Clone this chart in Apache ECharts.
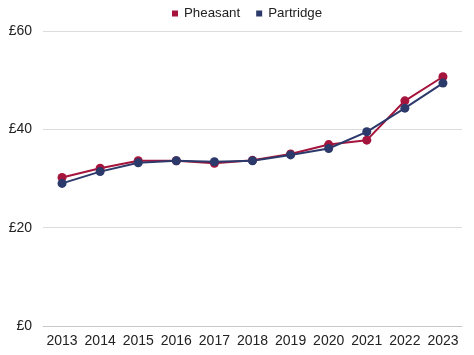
<!DOCTYPE html>
<html><head><meta charset="utf-8">
<script src="https://cdn.jsdelivr.net/npm/echarts@6/dist/echarts.min.js"></script>
<style>html,body{margin:0;padding:0;background:#fff}#c{width:474px;height:355px}</style>
</head><body><div id="c"></div>
<script>
const years = ['2013','2014','2015','2016','2017','2018','2019','2020','2021','2022','2023'];
const pheasant = [30.2, 32.1, 33.6, 33.6, 33.1, 33.7, 35.0, 36.9, 37.8, 45.8, 50.7];
const partridge = [29.0, 31.4, 33.2, 33.6, 33.4, 33.6, 34.8, 36.1, 39.5, 44.3, 49.4];
const seriesNames = ['Pheasant', 'Partridge'];
const colors = ['#A5143C', '#2B3A6B'];

const chart = echarts.init(document.getElementById('c'), null, {renderer: 'canvas'});
chart.setOption({
  animation: false,
  color: colors,
  legend: {
    top: 2, left: 167,
    icon: 'rect', itemWidth: 6, itemHeight: 6, itemGap: 16,
    textStyle: {fontFamily: 'Liberation Sans, Arial, sans-serif', fontSize: 13.3, color: '#222', padding: [0, 0, 0, 1]},
    data: seriesNames
  },
  grid: {left: 43, right: 12, top: 31, bottom: 29, containLabel: false},
  xAxis: {
    type: 'category', data: years, boundaryGap: true,
    axisLine: {lineStyle: {color: '#c8c8c8', width: 1}},
    axisTick: {show: false},
    axisLabel: {fontFamily: 'Liberation Sans, Arial, sans-serif', fontSize: 14, color: '#222', margin: 8, interval: 0}
  },
  yAxis: {
    type: 'value', min: 0, max: 60, interval: 20,
    axisLine: {show: false}, axisTick: {show: false},
    splitLine: {lineStyle: {color: '#dcdcdc', width: 1}},
    axisLabel: {fontFamily: 'Liberation Sans, Arial, sans-serif', fontSize: 14, color: '#222', margin: 11, formatter: v => '£' + v}
  },
  series: [
    {name: seriesNames[0], type: 'line', data: pheasant, symbol: 'circle', symbolSize: 9, lineStyle: {width: 2}, itemStyle: {color: colors[0]}},
    {name: seriesNames[1], type: 'line', data: partridge, symbol: 'circle', symbolSize: 9, lineStyle: {width: 2}, itemStyle: {color: colors[1]}}
  ]
});
</script></body></html>
